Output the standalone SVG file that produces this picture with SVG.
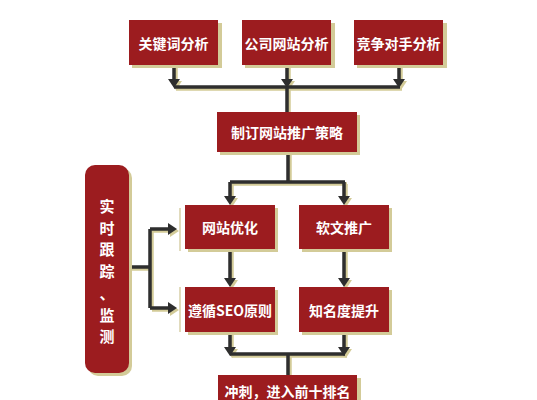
<svg xmlns="http://www.w3.org/2000/svg" xmlns:xlink="http://www.w3.org/1999/xlink" width="537" height="400" viewBox="0 0 537 400">
<style>
.box{fill:#9c1c1f}
.sh{fill:#d3cb98}
.t{fill:#ffffff;font-family:"Noto Sans CJK SC","Noto Sans",sans-serif;font-size:14px;font-weight:bold;text-anchor:middle;dominant-baseline:central}
.v{font-size:15px}
.ln{fill:none;stroke:#2e2e2e;stroke-width:3.5}
.lnsh{fill:none;stroke:#d3cb98;stroke-width:3.5}
.ah{fill:#2e2e2e}
.ahsh{fill:#d3cb98}
</style>
<defs>
<path id="dn" d="M-6,-9 L6,-9 L0,0 Z"/>
<path id="rt" d="M-9,-6 L-9,6 L0,0 Z"/>
<g id="conn">
<path d="M174,65 V80 M287,65 V80 M399,65 V80 M174,87 H400 M287,87 V112"/>
<path d="M288,152 V182 M230,182 H345 M230,182 V197 M344,182 V197"/>
<path d="M230,249 V279 M344,249 V279"/>
<path d="M230,332 V347 M344,332 V347 M230,354 H345 M288,354 V375"/>
<path d="M129,267 H150 M150,229 V308 M150,229 H169 M150,308 H169"/>
</g>
<g id="heads">
<use xlink:href="#dn" x="174" y="88"/>
<use xlink:href="#dn" x="287" y="88"/>
<use xlink:href="#dn" x="399" y="88"/>
<use xlink:href="#dn" x="230" y="205"/>
<use xlink:href="#dn" x="344" y="205"/>
<use xlink:href="#dn" x="230" y="287"/>
<use xlink:href="#dn" x="344" y="287"/>
<use xlink:href="#dn" x="230" y="356"/>
<use xlink:href="#dn" x="344" y="356"/>
<use xlink:href="#rt" x="177" y="229"/>
<use xlink:href="#rt" x="177" y="308"/>
</g>
</defs>
<rect width="537" height="400" fill="#ffffff"/>
<g id="connectors">
<use xlink:href="#conn" class="lnsh" transform="translate(2,2)"/>
<use xlink:href="#heads" class="ahsh" transform="translate(2,2)"/>
<use xlink:href="#conn" class="ln"/>
<use xlink:href="#heads" class="ah"/>
<path d="M180,208 V251 M180,287 V332" stroke="#d8d0a8" stroke-width="1.5" fill="none"/>
</g>
<g id="n1"><rect class="sh" x="132" y="23" width="90" height="45"/><rect class="box" x="129" y="20" width="89" height="45"/><text class="t" x="173.5" y="42.5">关键词分析</text></g>
<g id="n2"><rect class="sh" x="245" y="23" width="90" height="45"/><rect class="box" x="242" y="20" width="89" height="45"/><text class="t" x="286.5" y="42.5">公司网站分析</text></g>
<g id="n3"><rect class="sh" x="357" y="23" width="90" height="45"/><rect class="box" x="354" y="20" width="89" height="45"/><text class="t" x="398.5" y="42.5">竞争对手分析</text></g>
<g id="n4"><rect class="sh" x="220" y="115" width="140" height="40"/><rect class="box" x="217" y="112" width="140" height="40"/><text class="t" x="287" y="132">制订网站推广策略</text></g>
<g id="n5"><rect class="sh" x="188" y="208" width="90" height="44"/><rect class="box" x="185" y="205" width="90" height="44"/><text class="t" x="230" y="227">网站优化</text></g>
<g id="n6"><rect class="sh" x="302" y="208" width="90" height="44"/><rect class="box" x="299" y="205" width="90" height="44"/><text class="t" x="344" y="227">软文推广</text></g>
<g id="n7"><rect class="sh" x="188" y="290" width="90" height="45"/><rect class="box" x="185" y="287" width="90" height="45"/><text class="t" x="230" y="309.5">遵循SEO原则</text></g>
<g id="n8"><rect class="sh" x="302" y="290" width="90" height="45"/><rect class="box" x="299" y="287" width="90" height="45"/><text class="t" x="344" y="309.5">知名度提升</text></g>
<g id="n9"><rect class="sh" x="221" y="378" width="140" height="30"/><rect class="box" x="218" y="375" width="139" height="30"/><text class="t" x="287.5" y="391">冲刺，进入前十排名</text></g>
<g id="n10"><rect class="sh" x="88" y="168" width="44" height="208" rx="10"/><rect class="box" x="85" y="165" width="44" height="208" rx="10"/>
<text class="t v" x="107" y="205">实</text><text class="t v" x="107" y="227">时</text><text class="t v" x="107" y="248">跟</text><text class="t v" x="107" y="270">踪</text><text class="t v" x="107" y="292">、</text><text class="t v" x="107" y="314">监</text><text class="t v" x="107" y="335">测</text></g>
</svg>
